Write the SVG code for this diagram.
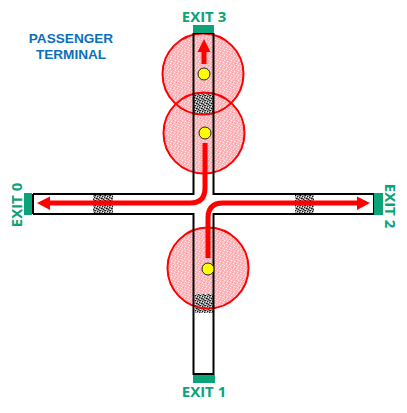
<svg xmlns="http://www.w3.org/2000/svg" width="407" height="413" viewBox="0 0 407 413">
<style>
.wall{fill:none;stroke:#000;stroke-width:2}
.exit{fill:#0ba377}
.zone{fill:url(#pink);stroke:none}
.ring{fill:none;stroke:#f00;stroke-width:2}
.dense{fill:url(#noise)}
.person{fill:#ff0;stroke:#222;stroke-width:1}
.flow{fill:none;stroke:#f00;stroke-width:5}
.head{fill:#f00}
.lbl{font-family:"Open Sans","Noto Sans",sans-serif;font-weight:700;font-size:15px;fill:#0ba377;text-anchor:middle}
.ttl{font-family:"Liberation Sans",Arial,sans-serif;font-weight:700;font-size:13.600px;fill:#0a70b8;text-anchor:middle}
</style>
<defs>
<pattern id="pink" width="7" height="5" patternUnits="userSpaceOnUse">
<rect width="7" height="5" fill="#fcb8bc"/>
<rect x="0" y="0" width="1" height="1" fill="#ffecec"/>
<rect x="3" y="1" width="1" height="1" fill="#ffecec"/>
<rect x="6" y="2" width="1" height="1" fill="#ffe4e4"/>
<rect x="2" y="3" width="1" height="1" fill="#ffecec"/>
<rect x="5" y="4" width="1" height="1" fill="#ffe4e4"/>
<rect x="1" y="2" width="1" height="1" fill="#fba0a6"/>
<rect x="4" y="3" width="1" height="1" fill="#fba0a6"/>
<rect x="5" y="0" width="1" height="1" fill="#fba0a6"/>
</pattern>
<pattern id="noise" width="5" height="5" patternUnits="userSpaceOnUse">
<rect width="5" height="5" fill="#999"/>
<rect x="0" y="0" width="1" height="1" fill="#111"/>
<rect x="2" y="1" width="1" height="1" fill="#111"/>
<rect x="4" y="2" width="1" height="1" fill="#222"/>
<rect x="1" y="3" width="1" height="1" fill="#111"/>
<rect x="3" y="4" width="1" height="1" fill="#222"/>
<rect x="1" y="1" width="1" height="1" fill="#eee"/>
<rect x="3" y="2" width="1" height="1" fill="#eee"/>
<rect x="0" y="4" width="1" height="1" fill="#eee"/>
<rect x="4" y="0" width="1" height="1" fill="#444"/>
<rect x="2" y="3" width="1" height="1" fill="#444"/>
</pattern>
</defs>
<rect width="407" height="413" fill="#fff"/>
<g id="title"><text class="ttl"><tspan x="71" y="43">PASSENGER</tspan><tspan x="71" y="59">TERMINAL</tspan></text></g>
<g id="zone-fills">
<circle class="zone" cx="203" cy="74" r="40.500"/>
<circle class="zone" cx="204" cy="133" r="40.500"/>
<circle class="zone" cx="208" cy="268" r="40.500"/>
</g>
<g id="crowd-top"><rect class="dense" x="194" y="93" width="20" height="22"/></g>
<g id="crowd-bottom"><rect class="dense" x="195" y="294" width="18" height="19"/></g>
<g id="crowd-left"><rect class="dense" x="93" y="195" width="20" height="18"/></g>
<g id="crowd-right"><rect class="dense" x="295" y="195" width="19" height="18"/></g>
<g id="zone-top"><circle class="ring" cx="203" cy="74" r="40.500"/></g>
<g id="zone-mid"><circle class="ring" cx="204" cy="133" r="40.500"/></g>
<g id="zone-bottom"><circle class="ring" cx="208" cy="268" r="40.500"/></g>
<g id="corridors">
<path class="wall" d="M193.500 33V194H33M213.500 33V194H374M33 214H193.500V374H213.500V214H374"/>
<path class="wall" d="M33 194V214M374 194V214M193.500 33H213.500"/>
</g>
<g id="exit-3"><rect class="exit" x="193" y="25" width="21" height="8"/><text class="lbl" x="204" y="22">EXIT 3</text></g>
<g id="exit-1"><rect class="exit" x="193" y="375" width="22" height="8"/><text class="lbl" x="204" y="397">EXIT 1</text></g>
<g id="exit-0"><rect class="exit" x="24" y="193" width="8" height="22"/><text class="lbl" transform="translate(22 205) rotate(-90)">EXIT 0</text></g>
<g id="exit-2"><rect class="exit" x="374" y="193" width="9" height="22"/><text class="lbl" transform="translate(385 206) rotate(90)">EXIT 2</text></g>
<g id="connectors">
<path class="flow" d="M204 64V50"/><polygon class="head" points="204,39 210.500,52 197.500,52"/>
<path class="flow" d="M205 143V188Q205 203 190 203H48"/><polygon class="head" points="37,203 50,196.500 50,210"/>
<path class="flow" d="M208 258V218Q208 203 223 203H359"/><polygon class="head" points="370,203 357,196.500 357,210"/>
</g>
<g id="person-top"><circle class="person" cx="204" cy="74" r="6"/></g>
<g id="person-mid"><circle class="person" cx="205" cy="133" r="6"/></g>
<g id="person-bottom"><circle class="person" cx="208" cy="269" r="6"/></g>
</svg>
